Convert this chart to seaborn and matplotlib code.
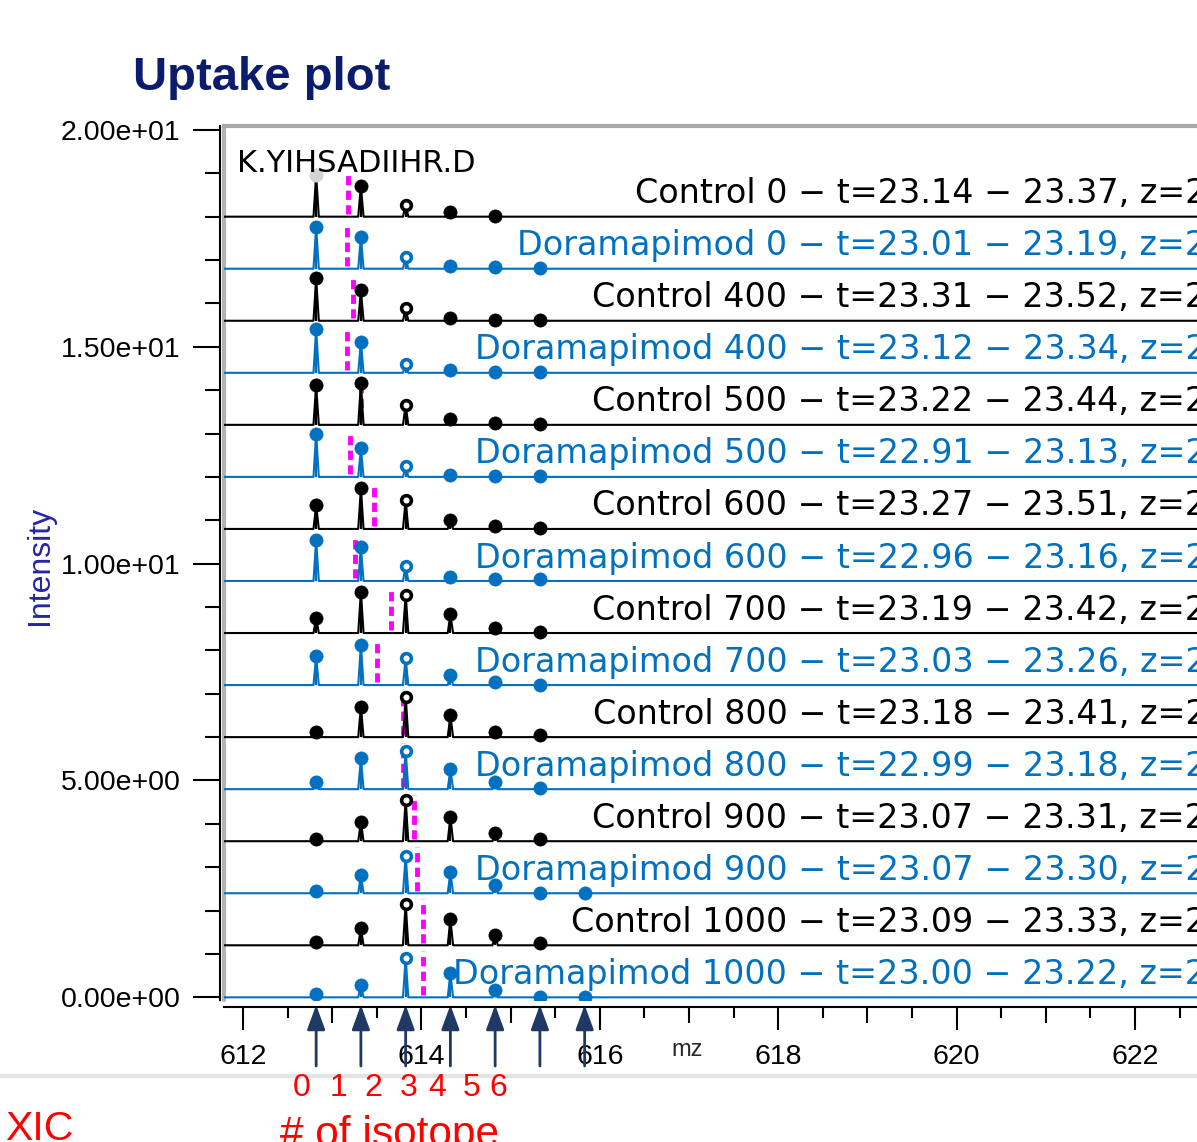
import numpy as np
import pandas as pd
import matplotlib
matplotlib.use("Agg")
import matplotlib.pyplot as plt
import matplotlib.transforms as mtransforms
from matplotlib.lines import Line2D
from matplotlib.ticker import FixedLocator, FuncFormatter
import seaborn as sns

# ---- data (top trace first) ----
conditions = ["Control", "Doramapimod"] * 8
times = [0, 0, 400, 400, 500, 500, 600, 600, 700, 700, 800, 800, 900, 900, 1000, 1000]
rt_start = [23.14, 23.01, 23.31, 23.12, 23.22, 22.91, 23.27, 22.96,
            23.19, 23.03, 23.18, 22.99, 23.07, 23.07, 23.09, 23.00]
rt_end = [23.37, 23.19, 23.52, 23.34, 23.44, 23.13, 23.51, 23.16,
          23.42, 23.26, 23.41, 23.18, 23.31, 23.30, 23.33, 23.22]
centroids = [613.18, 613.17, 613.23, 613.17, 613.32, 613.20, 613.47, 613.26,
             613.66, 613.50, 613.79, 613.79, 613.92, 613.95, 614.02, 614.02]
intensities = [
    [0.96, 0.71, 0.27, 0.11, 0.02],
    [0.96, 0.74, 0.28, 0.06, 0.05, 0.01],
    [0.98, 0.71, 0.29, 0.06, 0.02, 0.01],
    [1.00, 0.72, 0.20, 0.07, 0.02, 0.01],
    [0.91, 0.96, 0.46, 0.14, 0.04, 0.01],
    [1.00, 0.66, 0.24, 0.05, 0.01, 0.01],
    [0.55, 0.94, 0.67, 0.21, 0.07, 0.03],
    [0.95, 0.78, 0.35, 0.09, 0.04, 0.04],
    [0.35, 0.95, 0.88, 0.43, 0.11, 0.03],
    [0.67, 0.92, 0.62, 0.23, 0.07, 0.01],
    [0.12, 0.70, 0.93, 0.51, 0.12, 0.04],
    [0.17, 0.71, 0.88, 0.46, 0.17, 0.02],
    [0.06, 0.45, 0.95, 0.56, 0.18, 0.06],
    [0.05, 0.42, 0.87, 0.48, 0.19, 0.01, 0.01],
    [0.08, 0.39, 0.95, 0.60, 0.24, 0.06],
    [0.08, 0.28, 0.91, 0.55, 0.17, 0.01, 0.01],
]
peptide = "K.YIHSADIIHR.D"
mono_mz = 612.82
isotope_step = 0.5017
isotope_labels = ["0", "1", "2", "3", "4", "5", "6"]
trace_step = 1.2

# ---- style ----
sns.set_theme(style="white")
plt.rcParams["font.family"] = ["DejaVu Sans"]
palette = {"Control": "#000000", "Doramapimod": "#0070c0"}
tick_font = "Liberation Sans"

W, H = 1197, 1142
fig = plt.figure(figsize=(W / 100, H / 100), dpi=100)
fig.patch.set_facecolor("white")
ax = fig.add_axes([224 / W, 1 - 999.5 / H, (W - 224) / W, 873.9 / H])
ax.set_xlim(611.787, 622.695)
ax.set_ylim(-0.05, 20.1)

n = len(conditions)
bases = [trace_step * (n - 1 - i) for i in range(n)]
x0, x1 = ax.get_xlim()

# profile lines (narrow peaks on each baseline)
rows = []
for i in range(n):
    rows.append((i, conditions[i], x0, bases[i]))
    for k, h in enumerate(intensities[i]):
        p = mono_mz + k * isotope_step
        rows += [(i, conditions[i], p - 0.03, bases[i]),
                 (i, conditions[i], p, bases[i] + h),
                 (i, conditions[i], p + 0.03, bases[i])]
    rows.append((i, conditions[i], x1, bases[i]))
prof = pd.DataFrame(rows, columns=["trace", "condition", "mz", "y"])
sns.lineplot(data=prof, x="mz", y="y", hue="condition", units="trace",
             estimator=None, palette=palette, legend=False, lw=1.5, ax=ax, zorder=3)

for i in range(n):
    col = palette[conditions[i]]
    b = bases[i]
    c = centroids[i]
    ax.plot([c, c], [b + 0.06, b + 1.06], color="#ff00ff", lw=3.5,
            dashes=(1.9, 1.1), zorder=2)
    peaks = [mono_mz + k * isotope_step for k in range(len(intensities[i]))]
    tops = [b + h for h in intensities[i]]
    ax.vlines(peaks, b, tops, color=col, lw=1.6, zorder=3)
    for k, (p, t) in enumerate(zip(peaks, tops)):
        if k == 2:
            ax.plot(p, t, "o", ms=7, mfc="white", mec=col, mew=2.6, zorder=4)
        else:
            fc = "#d4d4d4" if (i == 0 and k == 0) else col
            ax.plot(p, t, "o", ms=9.5, mfc=fc, mec=fc, mew=0.5, zorder=4)
    label = (f"{conditions[i]} {times[i]} \u2212 t={rt_start[i]:.2f} "
             f"\u2212 {rt_end[i]:.2f}, z=2")
    ax.text(622.80, b + 0.31, label, ha="right", va="baseline", fontsize=24,
            color=col, clip_on=False, zorder=5)

ax.text(611.93, 19.03, peptide, fontsize=22, va="baseline", color="black", zorder=5)

# ---- axes frame / ticks ----
ax.spines["right"].set_visible(False)
ax.spines["top"].set_color("#a9a9a9")
ax.spines["top"].set_linewidth(3)
ax.spines["left"].set_color("black")
ax.spines["left"].set_linewidth(1.5)
ax.spines["left"].set_position(("outward", 3))
ax.spines["bottom"].set_color("black")
ax.spines["bottom"].set_linewidth(1.5)
ax.spines["bottom"].set_position(("outward", 5.4))
ax.plot([0, 0], [0, 1], transform=ax.transAxes, color="#b4b4b4", lw=3,
        clip_on=False, zorder=1)

ax.yaxis.set_major_locator(FixedLocator([0, 5, 10, 15, 20]))
ax.yaxis.set_minor_locator(FixedLocator(np.arange(0, 21, 1)))
ax.yaxis.set_major_formatter(FuncFormatter(lambda v, pos: f"{v:.2e}"))
ax.xaxis.set_major_locator(FixedLocator(np.arange(612, 623, 1)))
ax.xaxis.set_minor_locator(FixedLocator(np.arange(612.5, 623, 1)))
ax.xaxis.set_major_formatter(FuncFormatter(lambda v, pos: f"{v:.0f}" if round(v) % 2 == 0 else ""))

ax.tick_params(axis="y", which="major", left=True, direction="out", length=19.4,
               width=1.5, color="black", pad=9, labelsize=20.5, labelcolor="black")
ax.tick_params(axis="y", which="minor", left=True, direction="out", length=10.8,
               width=1.5, color="black")
ax.tick_params(axis="x", which="major", bottom=True, direction="out", length=16.5,
               width=1.5, color="black", pad=10, labelsize=20.5, labelcolor="black")
ax.tick_params(axis="x", which="minor", bottom=True, direction="out", length=7.9,
               width=1.5, color="black")
for lab in ax.get_xticklabels() + ax.get_yticklabels():
    lab.set_fontfamily(tick_font)
for tick, loc in zip(ax.xaxis.get_major_ticks(), ax.get_xticks()):
    if round(loc) % 2 == 1:
        tick.tick1line.set_markersize(11.5)
ax.set_xlabel("")
ax.set_ylabel("")
ax.grid(False)

# ---- annotations around the plot ----
fig.text(40 / W, 1 - 565 / H, "Intensity", rotation=90, color="#2424a8", fontsize=23,
         family="Liberation Sans", ha="center", va="center")
fig.text(687 / W, 1 - 1050 / H, "mz", fontsize=17, family=tick_font, ha="center", va="center")
fig.text(133 / W, 1 - 90 / H, "Uptake plot", fontsize=34, weight="bold", color="#0c1c6c",
         family="Liberation Sans", va="baseline")

fig.add_artist(Line2D([0, 1], [1 - 1076 / H] * 2, color="#e4e4e4", lw=3))

trans = mtransforms.blended_transform_factory(ax.transData, ax.transAxes)
for k in range(len(isotope_labels)):
    p = mono_mz + k * isotope_step
    ax.annotate("", xy=(p, -0.0063), xytext=(p, -0.0761), xycoords=trans, textcoords=trans,
                arrowprops=dict(arrowstyle="-|>,head_length=0.6,head_width=0.22",
                                color="#1f3864", lw=2, mutation_scale=25,
                                shrinkA=0, shrinkB=0),
                annotation_clip=False, zorder=6)

label_px = [302, 338, 373, 409, 437, 472, 498]
for lab, px in zip(isotope_labels, label_px):
    fig.text(px / W, 1 - 1088 / H, lab, color="#ff0000", fontsize=23,
             family="Liberation Sans", ha="center", va="center")
fig.text(5 / W, 1 - 1140 / H, "XIC", color="#ff0000", fontsize=29.5,
         family="Liberation Sans", va="baseline")
fig.text(280 / W, 1 - 1146 / H, "# of isotope", color="#ff0000", fontsize=30.5,
         family="Liberation Sans", va="baseline")

fig.savefig("out.png", dpi=100)
